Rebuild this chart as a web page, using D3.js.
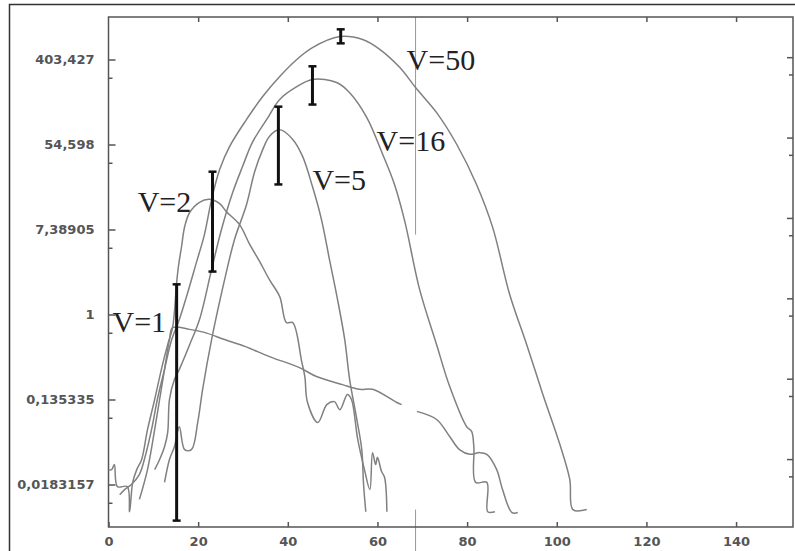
<!DOCTYPE html>
<meta charset="utf-8">
<head>
  <style>
    body { margin: 0; background: #fff; }
    svg { background: #fff; display: block; }
    .curve { fill: none; stroke: #808080; stroke-width: 1.5px; stroke-linejoin: round; }
    .err { stroke: #111; stroke-width: 3px; }
    .cap { stroke: #111; stroke-width: 2.5px; }
    .axis line, .axis path { stroke: #555; }
    .tick-label { font-family: "DejaVu Sans", sans-serif; font-weight: bold; font-size: 13px; fill: #555; }
    .vlabel { font-family: "Liberation Serif", "Times New Roman", serif; font-size: 30px; fill: #222; }
  </style>
  <script src="https://cdn.jsdelivr.net/npm/d3@7"></script>
</head>
<body>
<script>
  // y values are stored as natural logs (axis is e^k)
  var v1 = [[6.9,-4.35],[8.7,-3.65],[10.3,-2.71],[11.4,-2.00],[12.5,-1.29],[13.6,-0.59],[14.3,-0.31],
            [18.1,-0.35],[21.4,-0.42],[25.9,-0.59],[30.4,-0.75],[35.9,-0.99],[42.6,-1.25],[46.4,-1.46],
            [52.2,-1.65],[56.0,-1.76],[58.9,-1.76],[64.3,-2.07],[65.4,-2.12],null,[68.8,-2.28],[73.2,-2.47],
            [76.1,-2.87],[78.3,-3.18],[80.6,-3.29],[82.8,-3.25],[84.4,-3.29],[86.6,-3.65],[87.9,-4.12],
            [90.0,-4.66],[91.3,-4.66]];

  var v2 = [[0,-3.65],[0.7,-3.65],[1.3,-3.53],[2.0,-4.05],[4.2,-4.05],[4.7,-4.64],[5.4,-3.95],[6.3,-3.65],
            [7.4,-3.41],[8.7,-2.71],[10.3,-2.00],[11.8,-1.29],[13.2,-0.71],[14.3,-0.31],[15.2,0.75],
            [15.6,1.13],[16.3,1.60],[17.0,2.07],[18.1,2.40],[20.3,2.64],[22.5,2.71],[24.8,2.61],[26.3,2.42],
            [29.2,2.12],[31.5,1.65],[33.7,1.25],[35.9,0.82],[38.2,0.42],[39.7,-0.19],[41.1,-0.19],
            [43.1,-1.11],[43.8,-1.46],[44.4,-2.07],[46.7,-2.54],[48.7,-2.12],[50.4,-2.05],[51.6,-2.24],
            [53.3,-1.88],[54.2,-2.00],[55.6,-2.94],[57.1,-3.65],[58.3,-4.12],[58.9,-3.25],[59.6,-3.53],
            [60.0,-3.36],[60.9,-3.69],[61.6,-3.84],[62.1,-4.64]];

  var v5 = [[12.5,-3.95],[13.6,-3.41],[14.7,-3.11],[15.8,-2.64],[17.0,-3.18],[18.5,-3.18],[19.9,-2.54],
            [21.0,-1.76],[23.0,-0.59],[25.9,0.82],[28.1,1.76],[30.8,2.59],[32.6,3.36],[34.4,3.88],
            [35.9,4.19],[38.2,4.35],[41.1,4.12],[43.3,3.72],[45.5,3.01],[47.5,2.24],[49.3,1.29],
            [51.1,0.35],[52.7,-0.59],[53.8,-1.53],[55.4,-2.47],[56.5,-3.18],[56.9,-4.00],[57.4,-4.64]];

  var v16 = [[10.3,-3.65],[11.4,-3.41],[12.5,-3.11],[13.2,-2.78],[13.6,-2.00],[14.7,-1.53],[15.8,-1.29],
             [18.1,-0.71],[20.3,-0.12],[23.0,1.06],[25.2,2.00],[27.7,2.87],[29.9,3.48],[32.1,4.05],
             [35.3,4.59],[38.2,5.06],[42.0,5.36],[45.5,5.53],[50.9,5.46],[53.8,5.22],[57.6,4.64],
             [61.2,3.76],[63.8,3.06],[66.1,2.19],[69.4,0.59],[73.2,-0.71],[76.1,-1.69],[79.9,-2.64],
             [81.0,-2.75],[81.5,-3.11],[81.9,-3.95],[84.4,-3.95],[84.6,-4.64],[86.2,-4.64]];

  var v50 = [[2.5,-4.24],[3.6,-4.12],[5.1,-4.00],[6.9,-3.76],[8.3,-3.29],[9.6,-2.71],[10.9,-2.00],
             [12.5,-1.29],[14.1,-0.59],[15.8,-0.12],[17.4,0.42],[19.6,1.22],[21.4,1.88],[23.0,2.71],
             [24.8,3.41],[27.0,3.95],[30.8,4.59],[34.4,5.13],[38.2,5.60],[42.0,6.00],[45.5,6.28],
             [51.6,6.54],[56.7,6.47],[60.5,6.24],[65.0,5.81],[68.5,5.34],[73.2,4.75],[77.7,4.00],
             [82.1,3.06],[85.7,2.05],[89.5,0.47],[93.3,-0.71],[96.9,-1.88],[100.7,-3.06],
             [102.9,-3.88],[103.6,-4.59],[106.7,-4.59]];

  var seriesNames = ["V=1", "V=2", "V=5", "V=16", "V=50"];
  var labelPos = [[0.9,-0.42],[6.5,2.42],[45.5,2.94],[59.8,3.84],[66.5,5.76]];

  var errX  = [15.2, 23.2, 37.9, 45.5, 51.8];
  var errLo = [-4.85, 1.01, 3.06, 4.94, 6.38];
  var errHi = [0.71, 3.36, 4.89, 5.84, 6.71];

  var xTicks = [0, 20, 40, 60, 80, 100, 120, 140];
  var yTicks = [6, 4, 2, 0, -2, -4];
  var yTickLabels = ["403,427", "54,598", "7,38905", "1", "0,135335", "0,0183157"];
  var minorOffset = 0.43;
  var cursorX = 68.5;

  var W = 795, H = 551
    , margin = {top: 17, right: 2, bottom: 24, left: 108.5}
    , x = d3.scaleLinear().domain([0, 152.7]).range([margin.left, W - margin.right])
    , y = d3.scaleLinear().domain([-5, 7]).range([H - margin.bottom, margin.top])
    , yR = d3.scaleLinear().domain([-5.69, 7]).range([H - margin.bottom, margin.top]);

  var svg = d3.select("body").append("svg").attr("width", W).attr("height", H);

  // outer frame
  svg.append("path").attr("d", "M9.5," + H + "V4.5H" + W)
     .attr("fill", "none").attr("stroke", "#333").attr("stroke-width", 1.5);

  // cursor line
  svg.append("line").attr("x1", x(cursorX)).attr("x2", x(cursorX))
     .attr("y1", y(7)).attr("y2", y(1.88)).attr("stroke", "#999").attr("stroke-width", 1);
  svg.append("line").attr("x1", x(cursorX)).attr("x2", x(cursorX))
     .attr("y1", y(-4.59)).attr("y2", H).attr("stroke", "#999").attr("stroke-width", 1);

  // plot box
  svg.append("rect").attr("x", x(0)).attr("y", y(7))
     .attr("width", x(152.7) - x(0)).attr("height", y(-5) - y(7))
     .attr("fill", "none").attr("stroke", "#555").attr("stroke-width", 1.5);

  // axes
  var xBottom = d3.axisBottom(x).tickValues(xTicks).tickSize(-5).tickPadding(10).tickFormat(d3.format("d"));
  var gx = svg.append("g").attr("class", "axis").attr("transform", "translate(0," + y(-5) + ")").call(xBottom);
  gx.select(".domain").remove();
  gx.selectAll("text").attr("class", "tick-label");

  var gxt = svg.append("g").attr("class", "axis").attr("transform", "translate(0," + y(7) + ")")
     .call(d3.axisTop(x).tickValues(xTicks.slice(1)).tickSize(-5).tickFormat(""));
  gxt.select(".domain").remove();

  var yLeft = d3.axisLeft(y).tickValues(yTicks).tickSize(-7).tickPadding(14)
     .tickFormat(function(d, i) { return yTickLabels[i]; });
  var gy = svg.append("g").attr("class", "axis").attr("transform", "translate(" + x(0) + ",0)").call(yLeft);
  gy.select(".domain").remove();
  gy.selectAll("text").attr("class", "tick-label");
  var gym = svg.append("g").attr("class", "axis").attr("transform", "translate(" + x(0) + ",0)")
     .call(d3.axisLeft(y).tickValues(yTicks.map(function(d) { return d - minorOffset; })).tickSize(-4).tickFormat(""));
  gym.select(".domain").remove();

  var gyr = svg.append("g").attr("class", "axis").attr("transform", "translate(" + x(152.7) + ",0)")
     .call(d3.axisRight(yR).tickValues(yTicks).tickSize(-6).tickFormat(""));
  gyr.select(".domain").remove();
  var gyrm = svg.append("g").attr("class", "axis").attr("transform", "translate(" + x(152.7) + ",0)")
     .call(d3.axisRight(yR).tickValues(yTicks.map(function(d) { return d - minorOffset; })).tickSize(-4).tickFormat(""));
  gyrm.select(".domain").remove();
  svg.selectAll(".axis line").attr("stroke-width", 1.5);

  // curves
  var line = d3.line()
      .defined(function(d) { return d !== null; })
      .curve(d3.curveCatmullRom.alpha(0.5))
      .x(function(d) { return x(d[0]); })
      .y(function(d) { return y(d[1]); });

  svg.selectAll(".curve").data([v1, v2, v5, v16, v50]).enter()
     .append("path").attr("class", "curve").attr("d", line);

  // error bars
  svg.selectAll(".err").data(errX).enter().append("line").attr("class", "err")
     .attr("x1", function(d) { return x(d); }).attr("x2", function(d) { return x(d); })
     .attr("y1", function(d, i) { return y(errHi[i]); })
     .attr("y2", function(d, i) { return y(errLo[i]); });

  errX.forEach(function(d, i) {
    [errHi[i], errLo[i]].forEach(function(v) {
      svg.append("line").attr("class", "cap")
         .attr("x1", x(d) - 4).attr("x2", x(d) + 4)
         .attr("y1", y(v)).attr("y2", y(v));
    });
  });

  // labels
  svg.selectAll(".vlabel").data(seriesNames).enter().append("text").attr("class", "vlabel")
     .attr("x", function(d, i) { return x(labelPos[i][0]); })
     .attr("y", function(d, i) { return y(labelPos[i][1]); })
     .text(function(d) { return d; });
</script>
</body>
